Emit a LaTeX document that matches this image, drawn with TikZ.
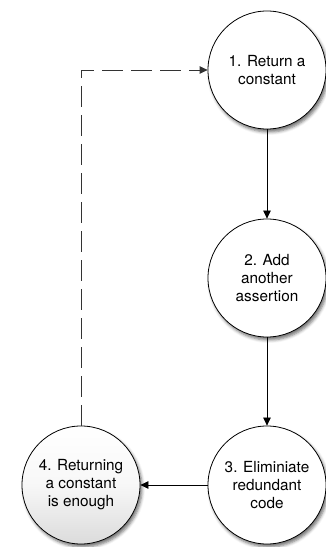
\documentclass[tikz,border=0pt]{standalone}
\usepackage{fontspec}
\setmainfont{TeX Gyre Heros}
\usetikzlibrary{arrows.meta,shadows.blur}
\tikzset{
  stage/.style={circle, draw, line width=0.8pt, fill=white, minimum size=118pt,
    inner sep=0pt, align=center, font=\fontsize{15.3}{18}\selectfont,
    blur shadow={shadow xshift=2pt, shadow yshift=-3pt, shadow blur radius=3pt,
      shadow opacity=55}},
  flow/.style={-{Triangle[length=8pt,width=7.5pt]}, line width=0.8pt},
}
\begin{document}
\begin{tikzpicture}[x=1pt,y=1pt]
    \useasboundingbox (0,0) rectangle (326,547);
    \node[stage] (C) at (267,477) {1. Return a\\constant};
    \node[stage] (A) at (267,269) {2. Add\\another\\assertion};
    \node[stage] (E) at (267,62)  {3. Eliminiate\\redundant\\code};
    \node[stage, top color=white, bottom color=black!14, middle color=black!3] (N)
        at (81,62) {4. Returning\\a constant\\is enough};

    \draw [flow] (C) -- (A);
    \draw [flow] (A) -- (E);
    \draw [flow] (E) -- (N);
    \draw [flow, black!80, dash pattern=on 21pt off 8pt] (N) |- (C);
\end{tikzpicture}
\end{document}
